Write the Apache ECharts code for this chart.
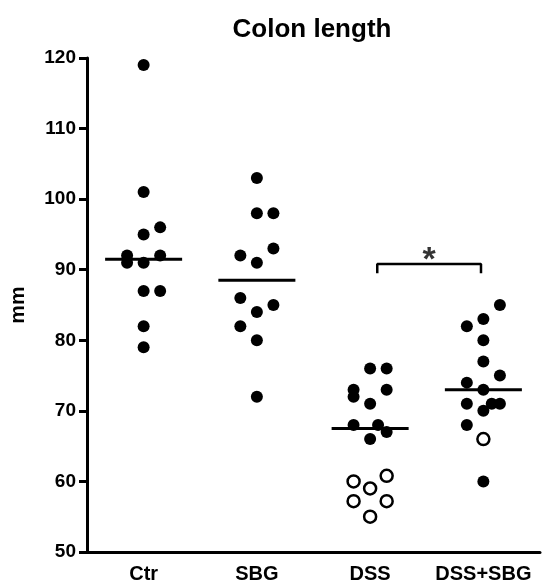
<!DOCTYPE html>
<html>
<head>
<meta charset="utf-8">
<script src="https://cdn.jsdelivr.net/npm/echarts@6/dist/echarts.min.js"></script>
<style>
  html, body { margin: 0; padding: 0; background: #ffffff; }
  #chart { width: 543px; height: 585px; }
</style>
</head>
<body>
<div id="chart"></div>
<script>
// Colon length per animal (mm), grouped by treatment
const categories = ['Ctr', 'SBG', 'DSS', 'DSS+SBG'];
const yTicks = { min: 50, max: 120, step: 10 };

// Filled markers: values and horizontal spread (in category widths)
const ctrValues   = [119, 101, 96, 95, 92, 92, 91, 91, 87, 87, 82, 79];
const ctrSpread   = [0, 0, 0.146, 0, 0.146, -0.146, -0.146, 0, 0, 0.146, 0, 0];
const sbgValues   = [103, 98, 98, 93, 92, 91, 86, 85, 84, 82, 80, 72];
const sbgSpread   = [0, 0, 0.146, 0.146, -0.146, 0, -0.146, 0.146, 0, -0.146, 0, 0];
const dssValues   = [76, 76, 73, 72, 73, 71, 68, 68, 67, 66];
const dssSpread   = [0, 0.146, -0.146, -0.146, 0.146, 0, -0.146, 0.07, 0.146, 0];
const dssSbgValues = [85, 83, 82, 80, 77, 75, 74, 73, 71, 71, 71, 70, 68, 60];
const dssSbgSpread = [0.146, 0, -0.146, 0, 0, 0.146, -0.146, 0, -0.146, 0.074, 0.146, 0, -0.146, 0];

// Open markers
const dssOpenValues    = [60.8, 60, 59, 57.2, 57.2, 55];
const dssOpenSpread    = [0.146, -0.146, 0, -0.146, 0.146, 0];
const dssSbgOpenValues = [66];
const dssSbgOpenSpread = [0];

// Significance bracket between DSS and DSS+SBG
const bracketLabel = '*';
const bracketTop = 90.8;
const bracketFoot = 89.5;
const bracketFrom = 3.063;
const bracketTo = 3.979;

const filledGroups = [
  [ctrValues, ctrSpread],
  [sbgValues, sbgSpread],
  [dssValues, dssSpread],
  [dssSbgValues, dssSbgSpread]
];
const openGroups = [
  [[], []],
  [[], []],
  [dssOpenValues, dssOpenSpread],
  [dssSbgOpenValues, dssSbgOpenSpread]
];

function toPoints(groups) {
  const pts = [];
  groups.forEach(([vals, spread], i) => {
    vals.forEach((v, k) => pts.push([i + 1 + spread[k], v]));
  });
  return pts;
}

function median(arr) {
  const s = arr.slice().sort((a, b) => a - b);
  const n = s.length;
  return n % 2 ? s[(n - 1) / 2] : (s[n / 2 - 1] + s[n / 2]) / 2;
}

const halfBar = 0.34;
const medianSeries = categories.map((c, i) => {
  const all = filledGroups[i][0].concat(openGroups[i][0]);
  const m = median(all);
  return {
    type: 'line',
    xAxisIndex: 1,
    data: [[i + 1 - halfBar, m], [i + 1 + halfBar, m]],
    symbol: 'none',
    lineStyle: { color: '#000', width: 3 },
    silent: true,
    z: 2
  };
});

const font = '"Liberation Sans", Arial, Helvetica, sans-serif';

const chart = echarts.init(document.getElementById('chart'), null, { renderer: 'canvas' });
chart.setOption({
  backgroundColor: '#ffffff',
  animation: false,
  title: {
    text: 'Colon length',
    left: 307,
    top: 12,
    textAlign: 'center',
    textStyle: { fontFamily: font, fontSize: 26, fontWeight: 'bold', color: '#000' }
  },
  grid: { left: 84, right: 3, top: 58, bottom: 33, containLabel: false },
  xAxis: [
    {
      type: 'category',
      data: categories,
      axisLine: { lineStyle: { color: '#000', width: 3 } },
      axisTick: { alignWithLabel: true, length: 8, lineStyle: { color: '#000', width: 3 } },
      axisLabel: { interval: 0, fontFamily: font, fontSize: 20, fontWeight: 'bold', color: '#000', margin: 12 },
      splitLine: { show: false }
    },
    {
      type: 'value',
      min: 0.5,
      max: 4.5,
      show: false,
      splitLine: { show: false }
    }
  ],
  yAxis: {
    type: 'value',
    min: yTicks.min,
    max: yTicks.max,
    interval: yTicks.step,
    name: 'mm',
    nameLocation: 'middle',
    nameRotate: 90,
    nameGap: 58,
    nameTextStyle: { fontFamily: font, fontSize: 21, fontWeight: 'bold', color: '#000' },
    axisLine: { show: true, lineStyle: { color: '#000', width: 3 } },
    axisTick: { show: true, length: 8, lineStyle: { color: '#000', width: 3 } },
    axisLabel: { fontFamily: font, fontSize: 19, fontWeight: 'bold', color: '#000', margin: 11 },
    splitLine: { show: false }
  },
  series: [
    ...medianSeries,
    {
      type: 'scatter',
      xAxisIndex: 1,
      data: toPoints(filledGroups),
      symbol: 'circle',
      symbolSize: 12,
      itemStyle: { color: '#000', opacity: 1 },
      z: 3
    },
    {
      type: 'scatter',
      xAxisIndex: 1,
      data: toPoints(openGroups),
      symbol: 'circle',
      symbolSize: 12,
      itemStyle: { color: '#fff', borderColor: '#000', borderWidth: 2.5, opacity: 1 },
      z: 3
    },
    {
      type: 'line',
      xAxisIndex: 1,
      data: [[bracketFrom, bracketFoot], [bracketFrom, bracketTop], [bracketTo, bracketTop], [bracketTo, bracketFoot]],
      symbol: 'none',
      lineStyle: { color: '#000', width: 2.5 },
      silent: true,
      z: 2
    },
    {
      type: 'scatter',
      xAxisIndex: 1,
      data: [[(bracketFrom + bracketTo) / 2, bracketTop]],
      symbolSize: 0,
      label: {
        show: true,
        position: 'top',
        distance: -14,
        formatter: bracketLabel,
        fontFamily: font,
        fontSize: 34,
        fontWeight: 'bold',
        color: '#000'
      },
      silent: true
    }
  ]
});
</script>
</body>
</html>
